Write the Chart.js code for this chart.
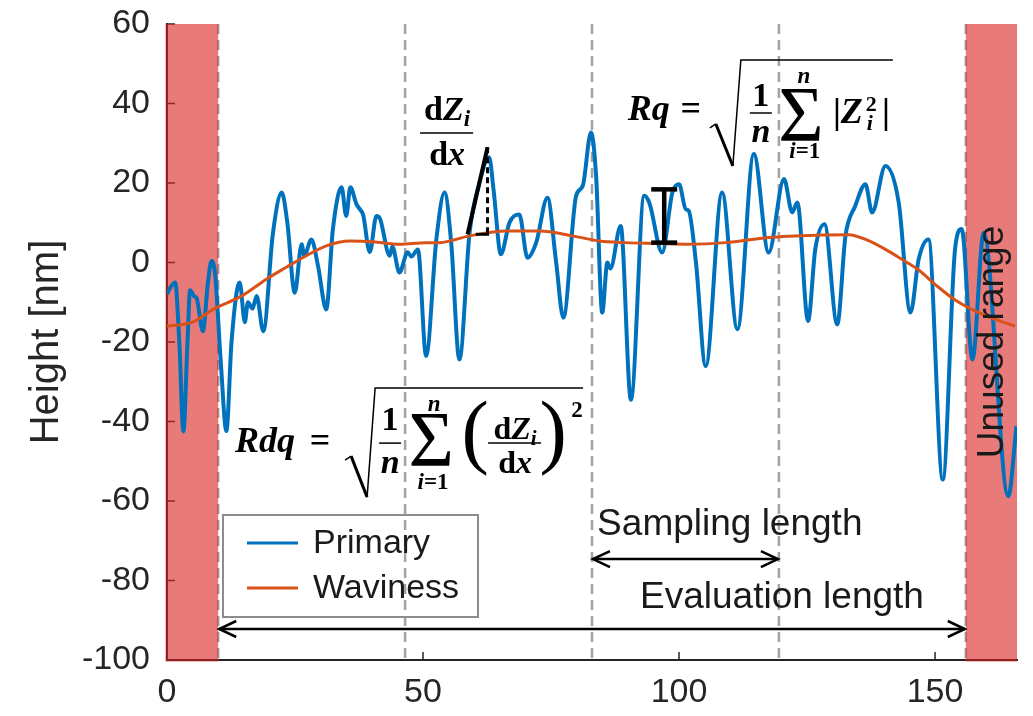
<!DOCTYPE html>
<html>
<head>
<meta charset="utf-8">
<script src="https://cdn.jsdelivr.net/npm/chart.js@4.4.1/dist/chart.umd.min.js"></script>
<style>
  html, body { margin: 0; padding: 0; background: #fff; overflow: hidden; }
  #wrap { width: 1033px; height: 716px; position: relative; }
</style>
</head>
<body>
<div id="wrap"><canvas id="c" width="1033" height="716"></canvas></div>
<script>
// Surface profile (nm) along the trace
const primaryX = [0, 0.8, 1.6, 2.4, 3.2, 4.0, 4.5, 5.3, 5.8, 7.0,
  8.0, 8.7, 9.4, 10.5, 11.6, 12.6, 14.2, 15.2, 15.8, 16.7,
  17.5, 18.8, 20.7, 22.4, 23.5, 24.95, 26.3, 26.8, 28.2, 29.5,
  31.1, 32.4, 34.1, 35.0, 35.8, 37.0, 37.6, 38.3, 39.6, 40.9,
  41.6, 43.5, 44.0, 45.4, 47.0, 47.7, 49.0, 50.6, 52.6, 54.2,
  55.5, 57.1, 59.1, 61.0, 62.9, 63.8, 65.2, 66.9, 68.8, 70.4,
  72.1, 74.3, 76.0, 77.4, 79.9, 81.2, 82.8, 83.8, 85.0, 86.0,
  86.6, 88.6, 90.6, 93.2, 94.2, 96.7, 98.7, 100.0, 101.3, 101.9,
  103.3, 105.2, 108.4, 111.4, 114.6, 117.5, 120.5, 122.1, 123.1, 125.2,
  126.6, 128.4, 130.9, 132.5, 134.4, 136.4, 137.7, 140.3, 142.9, 145.2,
  146.8, 148.7, 151.5, 153.9, 155.2, 157.3, 159.5, 164.3, 165.9];
const primaryY = [-8, -6, -5, -20, -42.5, -20, -7, -8.5, -9, -17.3,
  -5, 0.4, -3, -25, -42.4, -20, -5, -15, -10, -11.6,
  -8.4, -17.3, 7.5, 17.6, 10, -7.6, 4.6, 1.7, 5.8, -0.9,
  -11.8, 8.4, 18.9, 11.7, 18.9, 14.7, 13.5, 12, 2.6, 11.7,
  11, 1.7, 4, -2.5, 2.6, 1.5, 3.3, -23.5, 5.8, 17.6,
  5, -24.4, 7.6, 20, 26.5, 18, 2.1, 10.1, 12.1, 1.2,
  5, 16.3, 0, -13.9, 16.8, 19.3, 32.7, 21.8, -12.6, 0,
  -1.5, 9.2, -34.5, 16.8, 15, 2.5, 17.6, 19.7, 13.4, 13,
  0, -26.1, 17.6, -16.8, 27.3, 2.5, 21, 12.6, 15.1, -14.7,
  3.3, 9.6, -15.6, 6.7, 14.2, 19.7, 12.6, 24.3, 15.1, -12.6,
  0.8, 5.8, -54.6, 3.3, 8.4, -24.4, 7.5, -58.8, -41.2];

// Long-wavelength (waviness) component
const wavinessX = [0, 5, 9, 14.6, 19.4, 23.3, 27.2, 31.1, 35.7, 40.2,
  45.4, 50.6, 53.2, 59.1, 66.2, 72.7, 79.2, 84.4, 89.6, 95.5,
  102, 109.1, 117.5, 127.3, 133.1, 137, 140.3, 143.5, 146.8, 150,
  154, 159.5, 165.6];
const wavinessY = [-16, -15, -11.8, -8.4, -4.2, -1.2, 1.7, 4.2, 5.4, 5.2,
  4.6, 5, 5, 6.7, 7.9, 7.9, 6.7, 5.4, 5, 4.8,
  4.6, 5, 6.3, 6.9, 7.0, 5.5, 3.3, 0.8, -1.9, -5.5,
  -9.5, -13.2, -16];

const xTicks = [0, 50, 100, 150];
const yTicks = [-100, -80, -60, -40, -20, 0, 20, 40, 60];
const unusedRanges = [[0, 10], [156, 166]];
const sectionBounds = [10, 46.5, 83, 119.5, 156];
const samplingSpan = [83, 119.5];
const evaluationSpan = [10, 156];

const SANS = '"Liberation Sans", Arial, sans-serif';
const SERIF = '"Liberation Serif", "DejaVu Serif", serif';
const bi = s => `italic bold ${s}px ${SERIF}`;
const bd = s => `bold ${s}px ${SERIF}`;
const rg = s => `${s}px ${SERIF}`;

// draw a run of [text, font, dy, dx, advanceAdjust] pieces; align 'left' or 'center' around x
function run(ctx, pieces, x, y, align) {
  let total = 0;
  const widths = pieces.map(p => { ctx.font = p[1]; const w = ctx.measureText(p[0]).width + (p[4] || 0); total += w; return w; });
  let cx = align === 'center' ? x - total / 2 : x;
  ctx.textAlign = 'left';
  ctx.textBaseline = 'alphabetic';
  pieces.forEach((p, i) => {
    ctx.font = p[1];
    ctx.fillText(p[0], cx + (p[3] || 0), y + (p[2] || 0));
    cx += widths[i];
  });
  return total;
}
function seg(ctx, pts, w) {
  ctx.lineWidth = w;
  ctx.beginPath();
  pts.forEach((p, i) => i ? ctx.lineTo(p[0], p[1]) : ctx.moveTo(p[0], p[1]));
  ctx.stroke();
}
function arrowHead(ctx, x, y, dir) {
  ctx.beginPath();
  ctx.moveTo(x - dir * 17, y - 8);
  ctx.lineTo(x, y);
  ctx.lineTo(x - dir * 17, y + 8);
  ctx.stroke();
}

const decor = {
  id: 'profileDecor',
  beforeDatasetsDraw(chart) {
    const { ctx, chartArea: a, scales: { x, y } } = chart;
    ctx.save();
    // sampling-length boundaries
    ctx.strokeStyle = '#a3a3a3';
    ctx.lineWidth = 2.5;
    ctx.setLineDash([10, 6]);
    sectionBounds.forEach(v => {
      const px = x.getPixelForValue(v);
      ctx.beginPath(); ctx.moveTo(px, a.top); ctx.lineTo(px, a.bottom); ctx.stroke();
    });
    ctx.setLineDash([]);
    // inward tick marks
    ctx.strokeStyle = '#262626';
    ctx.lineWidth = 1.5;
    xTicks.forEach(v => {
      const px = x.getPixelForValue(v);
      ctx.beginPath(); ctx.moveTo(px, a.bottom); ctx.lineTo(px, a.bottom - 8); ctx.stroke();
    });
    yTicks.forEach(v => {
      const py = y.getPixelForValue(v);
      ctx.beginPath(); ctx.moveTo(a.left, py); ctx.lineTo(a.left + 8, py); ctx.stroke();
    });
    // unused ranges at both ends
    ctx.fillStyle = 'rgba(217, 33, 33, 0.6)';
    unusedRanges.forEach(([s, e]) => {
      const l = x.getPixelForValue(s) - (s === 0 ? 1.5 : 0);
      const r = x.getPixelForValue(e);
      ctx.fillRect(l, a.top, r - l, a.bottom - a.top + 1.5);
    });
    ctx.restore();
  },
  afterDatasetsDraw(chart) {
    const { ctx, scales: { x, y } } = chart;
    const X = v => x.getPixelForValue(v), Y = v => y.getPixelForValue(v);
    ctx.save();
    ctx.fillStyle = '#000';
    ctx.strokeStyle = '#000';
    ctx.lineCap = 'butt';

    // slope triangle
    seg(ctx, [[X(58.7), Y(7.1)], [X(62.6), Y(29.0)]], 4);
    seg(ctx, [[X(60.3), Y(7.1)], [X(62.9), Y(7.1)]], 3);
    ctx.setLineDash([6, 4]);
    seg(ctx, [[X(62.6), Y(29.0)], [X(62.6), Y(7.1)]], 3);
    ctx.setLineDash([]);

    // height bar
    const hx = X(97.1);
    seg(ctx, [[hx, Y(18.4)], [hx, Y(5.0)]], 4.5);
    seg(ctx, [[hx - 13, Y(18.4)], [hx + 13, Y(18.4)]], 4.5);
    seg(ctx, [[hx - 13, Y(5.0)], [hx + 13, Y(5.0)]], 4.5);

    // length arrows
    const sy = Y(-74.6), ey = Y(-92.2);
    [[samplingSpan, sy], [evaluationSpan, ey]].forEach(([sp, yy]) => {
      const l = X(sp[0]) + 1, r = X(sp[1]) - 1;
      seg(ctx, [[l, yy], [r, yy]], 2.5);
      arrowHead(ctx, l, yy, -1);
      arrowHead(ctx, r, yy, 1);
    });

    // plain labels
    ctx.fillStyle = '#1a1a1a';
    ctx.font = `37px ${SANS}`;
    ctx.textBaseline = 'alphabetic';
    ctx.textAlign = 'left';
    ctx.fillText('Sampling length', X(84.0), Y(-68.6));
    ctx.textAlign = 'center';
    ctx.fillText('Evaluation length', X(120.1), Y(-86.9));
    ctx.save();
    ctx.translate(X(161.3), Y(-20));
    ctx.rotate(-Math.PI / 2);
    ctx.textBaseline = 'middle';
    ctx.fillText('Unused range', 0, 0);
    ctx.restore();

    // dZ/dx fraction
    ctx.fillStyle = '#000';
    let ax = X(54.7), ay = Y(32.6);
    run(ctx, [['d', bd(34)], ['Z', bi(34)], ['i', bi(23), 6]], ax, ay - 13, 'center');
    seg(ctx, [[ax - 27, ay], [ax + 26, ay]], 1.5);
    run(ctx, [['d', bd(34)], ['x', bi(34)]], ax, ay + 32, 'center');

    // Rq formula
    ax = X(90.0); ay = Y(35.85);
    run(ctx, [['Rq', bi(36)]], ax, ay, 'left');
    run(ctx, [['=', bd(36)]], ax + 63, ay, 'center');
    seg(ctx, [[ax + 82, ay + 8], [ax + 88, ay + 4]], 1.5);
    seg(ctx, [[ax + 88, ay + 4], [ax + 105, ay + 46]], 3);
    seg(ctx, [[ax + 105, ay + 46], [ax + 113, ay - 60], [ax + 265, ay - 60]], 1.5);
    run(ctx, [['1', bd(34)]], ax + 133, ay - 14, 'center');
    seg(ctx, [[ax + 122, ay - 7], [ax + 144, ay - 7]], 1.5);
    run(ctx, [['n', bi(34)]], ax + 133, ay + 22, 'center');
    run(ctx, [['\u03A3', rg(78)]], ax + 173, ay + 20, 'center');
    run(ctx, [['n', bi(23)]], ax + 176, ay - 37, 'center');
    run(ctx, [['i', bi(23)], ['=1', bd(23)]], ax + 177, ay + 38, 'center');
    run(ctx, [['|', bd(36)]], ax + 209, ay + 3, 'center');
    run(ctx, [['Z', bi(36)]], ax + 213, ay + 3, 'left');
    run(ctx, [['2', bd(22)]], ax + 238, ay - 9, 'left');
    run(ctx, [['i', bi(22)]], ax + 239, ay + 10, 'left');
    run(ctx, [['|', bd(36)]], ax + 258, ay + 3, 'center');

    // Rdq formula
    ax = X(13.3); ay = Y(-47.7);
    run(ctx, [['Rdq', bi(36)]], ax, ay, 'left');
    run(ctx, [['=', bd(36)]], ax + 85, ay, 'center');
    seg(ctx, [[ax + 110, ay + 8], [ax + 116, ay + 4]], 1.5);
    seg(ctx, [[ax + 116, ay + 4], [ax + 132, ay + 45]], 3);
    seg(ctx, [[ax + 132, ay + 45], [ax + 140, ay - 64], [ax + 348, ay - 64]], 1.5);
    run(ctx, [['1', bd(34)]], ax + 155, ay - 22, 'center');
    seg(ctx, [[ax + 144, ay - 9], [ax + 166, ay - 9]], 1.5);
    run(ctx, [['n', bi(34)]], ax + 155, ay + 21, 'center');
    run(ctx, [['\u03A3', rg(78)]], ax + 196, ay + 13, 'center');
    run(ctx, [['n', bi(23)]], ax + 199, ay - 41, 'center');
    run(ctx, [['i', bi(23)], ['=1', bd(23)]], ax + 198, ay + 37, 'center');
    run(ctx, [['(', rg(82)]], ax + 240, ay + 6, 'center');
    run(ctx, [['d', bd(32)], ['Z', bi(32)], ['i', bi(21), 6]], ax + 280, ay - 13, 'center');
    seg(ctx, [[ax + 253, ay - 9], [ax + 306, ay - 9]], 1.5);
    run(ctx, [['d', bd(32)], ['x', bi(32)]], ax + 280, ay + 21, 'center');
    run(ctx, [[')', rg(82)]], ax + 318, ay + 6, 'center');
    run(ctx, [['2', bd(23)]], ax + 342, ay - 35, 'center');

    ctx.restore();
  },
  afterDraw(chart) {
    // legend inside the axes, lower left
    const { ctx, chartArea: a } = chart;
    const bx = a.left + 56, by = a.bottom - 145, bw = 255, bh = 102;
    ctx.save();
    ctx.strokeStyle = '#8c8c8c';
    ctx.lineWidth = 2;
    ctx.strokeRect(bx, by, bw, bh);
    ctx.font = `34px ${SANS}`;
    ctx.textAlign = 'left';
    ctx.textBaseline = 'middle';
    chart.data.datasets.forEach((ds, i) => {
      const ly = by + 28 + i * 45;
      ctx.strokeStyle = ds.borderColor;
      ctx.lineWidth = 3;
      ctx.beginPath(); ctx.moveTo(bx + 24, ly); ctx.lineTo(bx + 75, ly); ctx.stroke();
      ctx.fillStyle = '#1a1a1a';
      ctx.fillText(ds.label, bx + 90, ly + 1);
    });
    ctx.restore();
  }
};

const toPoints = (xs, ys) => xs.map((v, i) => ({ x: v, y: ys[i] }));

new Chart(document.getElementById('c'), {
  type: 'line',
  data: {
    datasets: [
      { label: 'Primary', data: toPoints(primaryX, primaryY), borderColor: '#0072BD',
        borderWidth: 4, pointRadius: 0, cubicInterpolationMode: 'monotone', order: 2 },
      { label: 'Waviness', data: toPoints(wavinessX, wavinessY), borderColor: '#D95319',
        borderWidth: 3, pointRadius: 0, cubicInterpolationMode: 'monotone', order: 1 }
    ]
  },
  options: {
    responsive: false,
    animation: false,
    devicePixelRatio: 1,
    events: [],
    layout: { padding: { top: 24, right: 16, left: 0, bottom: 0 } },
    plugins: { legend: { display: false }, tooltip: { enabled: false } },
    scales: {
      x: {
        type: 'linear', min: 0, max: 166,
        afterBuildTicks: s => { s.ticks = xTicks.map(v => ({ value: v })); },
        afterFit: s => { s.height = 56; },
        grid: { display: false, drawTicks: false },
        border: { display: true, color: '#262626', width: 2 },
        ticks: { font: { family: SANS, size: 34 }, color: '#262626', padding: 12, maxRotation: 0, autoSkip: false }
      },
      y: {
        type: 'linear', min: -100, max: 60,
        afterBuildTicks: s => { s.ticks = yTicks.map(v => ({ value: v })); },
        afterFit: s => { s.width = 167; s.paddingTop = 0; s.paddingBottom = 0; },
        grid: { display: false, drawTicks: false },
        border: { display: true, color: '#262626', width: 2 },
        ticks: { font: { family: SANS, size: 34 }, color: '#262626', padding: 17, autoSkip: false },
        title: { display: true, text: 'Height [nm]', font: { family: SANS, size: 40 }, color: '#262626', padding: { top: 23 } }
      }
    }
  },
  plugins: [decor]
});
</script>
</body>
</html>
